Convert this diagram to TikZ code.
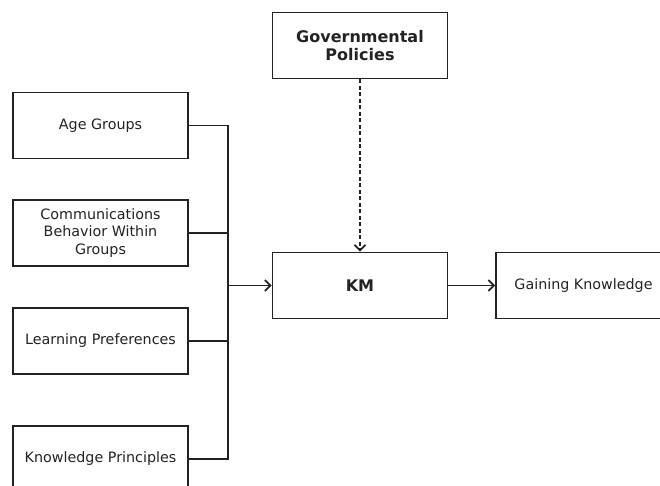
\documentclass[tikz,border=0pt]{standalone}
\usepackage{fontspec}
\setmainfont{DejaVu Sans}
\usepackage{tikz}
\usetikzlibrary{arrows.meta}
\usepackage{tkz-euclide}

\definecolor{tinta}{HTML}{222222}

\tikzset{
caixa/.style={draw=tinta, text=tinta, line width=1.9pt, minimum width=175pt, minimum height=66pt, inner sep=0pt, align=center, font=\fontsize{14.3}{17.6}\selectfont},
caixaforte/.style={caixa, font=\fontsize{16}{18.5}\selectfont\bfseries},
liga/.style={draw=tinta, line width=1.9pt},
seta/.style={liga, -{Straight Barb[length=5.5pt,width=11pt,line width=1.7pt]}}
}

\begin{document}
\begin{tikzpicture}[x=1pt,y=1pt] %uma unidade = um pixel da figura

\useasboundingbox (0,0) rectangle (660,486);

%O comando \tkzDefPoints define os pontos centrais das caixas no plano (x/y/NomedoPonto)
\tkzDefPoints{
100.5/360.5/A,
100.5/253/B,
100.5/145/C,
100.5/27/D,
360/200.5/E,
360/440.5/F,
583.5/200.5/G,
228/200.5/H}

%Caixas da esquerda (fatores)
%---------------------------------------------------
\node[caixa] (idade) at (A) {Age Groups};
\node[caixa] (comunica) at (B) {Communications\\Behavior Within\\Groups};
\node[caixa] (aprende) at (C) {Learning Preferences};
\node[caixa] (principios) at (D) {Knowledge Principles};
%---------------------------------------------------

%Caixas do centro e da direita
%---------------------------------------------------
\node[caixaforte] (km) at (E) {KM};
\node[caixaforte] (politicas) at (F) {Governmental\\Policies};
\node[caixa] (ganho) at (G) {Gaining Knowledge};
%---------------------------------------------------

%Ponto de junção das ligações (barramento vertical)
\coordinate (bus) at (H);

%---------------------------------------------------
%Ligando as caixas da esquerda ao barramento
%---------------------------------------------------
\draw[liga] (idade.east) -| (bus);
\draw[liga] (principios.east) -| (bus);
\draw[liga] (comunica.east) -- (comunica.east -| bus);
\draw[liga] (aprende.east) -- (aprende.east -| bus);

%Do barramento até KM, e de KM até Gaining Knowledge
%---------------------------------------------------
\draw[seta] (bus) -- (km.west);
\draw[seta] (km.east) -- (ganho.west);

%Seta tracejada de Governmental Policies até KM
%---------------------------------------------------
\draw[seta, dash pattern=on 4pt off 2.5pt] (politicas.south) -- (km.north);

\end{tikzpicture}
\end{document}
